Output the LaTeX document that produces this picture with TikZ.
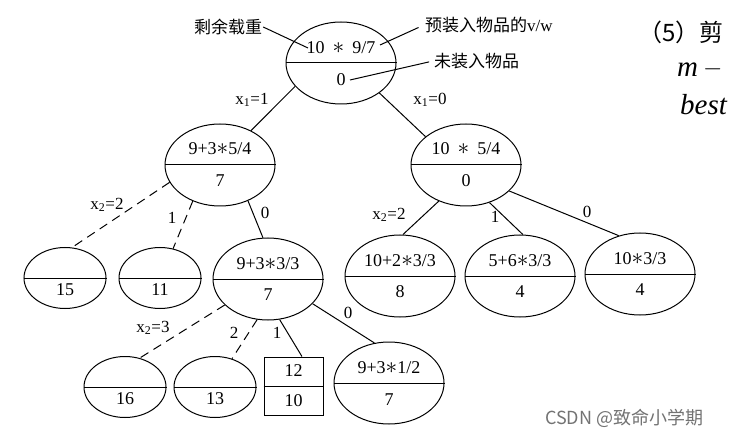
\documentclass[tikz,border=0pt]{standalone}
\usepackage{fontspec}
\usepackage{graphicx}
\setmainfont{Liberation Serif}
\newfontfamily\cjk{Noto Sans CJK SC}
\usetikzlibrary{shapes.geometric}
\newcommand\mystar{\scalebox{1.35}{\(\ast\)}}
\tikzset{
  ell/.style={ellipse, draw, line width=1pt, inner sep=0pt, minimum width=110pt, minimum height=82pt},
  leaf/.style={ellipse, draw, line width=1pt, inner sep=0pt, minimum width=82pt, minimum height=61pt},
  box/.style={rectangle, draw, line width=1pt, inner sep=0pt, minimum width=59pt, minimum height=58pt},
  txt/.style={inner sep=0pt, font=\fontsize{18}{20}\selectfont},
  lab/.style={inner sep=0pt, font=\fontsize{17}{20}\selectfont},
  ann/.style={inner sep=1pt, font=\fontsize{17}{20}\selectfont\cjk},
  conn/.style={line width=1pt},
  dconn/.style={line width=1pt, dash pattern=on 9pt off 6pt},
}
\newcommand\splitnode[7]{%
  \node[#1] (#2) at (#3) {};
  \draw[line width=1pt] (#2.west) -- (#2.east);
  \node[txt] (#2-t) at ([yshift=#6]#2.center) {#4};
  \node[txt] (#2-b) at ([yshift=-#7]#2.center) {#5};
}
\begin{document}
\begin{tikzpicture}[x=1pt,y=-1pt]
\useasboundingbox (0,0) rectangle (730,438);
\fill[white] (0,0) rectangle (730,438);

% tree nodes
\splitnode{ell}{R}{341,63}{10\hspace{.45em}\mystar\hspace{.45em}9/7}{0}{15pt}{17pt}
\splitnode{ell}{A}{220,165}{9+3\mystar5/4}{7}{16pt}{16pt}
\splitnode{ell}{C}{466,165}{10\hspace{.45em}\mystar\hspace{.45em}5/4}{0}{16pt}{16pt}
\splitnode{leaf}{L15}{65,278}{}{15}{0pt}{12pt}
\splitnode{leaf}{L11}{160,278}{}{11}{0pt}{12pt}
\splitnode{ell}{B}{268,279}{9+3\mystar3/3}{7}{15pt}{16pt}
\splitnode{ell}{D}{400,276}{10+2\mystar3/3}{8}{15pt}{16pt}
\splitnode{ell}{E}{520,276}{5+6\mystar3/3}{4}{15pt}{16pt}
\splitnode{ell}{F}{640,274}{10\mystar3/3}{4}{15pt}{16pt}
\splitnode{leaf}{L16}{125,387}{}{16}{0pt}{12pt}
\splitnode{leaf}{L13}{215,387}{}{13}{0pt}{12pt}
\splitnode{box}{K}{293.5,386}{12}{10}{15pt}{15pt}
\splitnode{ell}{G}{389,383}{9+3\mystar1/2}{7}{15pt}{17pt}

% connectors
\draw[conn] (R.207) -- (A.48);
\draw[conn] (R.322) -- (C.145);
\draw[dconn] (A.199) -- (L15.77);
\draw[dconn] (A.233) -- (L11.66);
\draw[conn] (A.308) -- (B.97);
\draw[conn] (C.233) -- (D.86);
\draw[conn] (C.302) -- (E.86);
\draw[conn] (C.329) -- (F.119);
\draw[dconn] (B.211) -- (L16.63);
\draw[dconn] (B.255) -- (L13.59);
\draw[conn] (B.286) -- (K.74);
\draw[conn] (B.331) -- (G.110);

% edge labels
\node[lab] (l1) at (252,100) {x\textsubscript{1}=1};
\node[lab] (l2) at (430,100) {x\textsubscript{1}=0};
\node[lab] (l3) at (107,205) {x\textsubscript{2}=2};
\node[lab] (l4) at (172,218) {1};
\node[lab] (l5) at (265,213) {0};
\node[lab] (l6) at (389,215) {x\textsubscript{2}=2};
\node[lab] (l7) at (495,217) {1};
\node[lab] (l8) at (587,212) {0};
\node[lab] (l9) at (153,328) {x\textsubscript{2}=3};
\node[lab] (l10) at (234,333) {2};
\node[lab] (l11) at (277,333) {1};
\node[lab] (l12) at (348,313) {0};

% annotations
\node[ann] (a1) at (228,27) {剩余载重};
\node[ann, anchor=west] (a2) at (424,25) {预装入物品的\textrm{v/w}};
\node[ann, anchor=west] (a3) at (433,61) {未装入物品};
\coordinate (p1) at (308,48);
\coordinate (p2) at (380,45);
\coordinate (p3) at (350,80);
\draw[conn] (a1.east) -- (p1);
\draw[conn, shorten <=6pt] (a2.west) -- (p2);
\draw[conn, shorten <=4pt] (a3.west) -- (p3);

% text of the page beside the figure
\node[anchor=west, inner sep=0pt, font=\fontsize{24}{28}\selectfont\cjk] (s5) at (638,32) {（5）剪};
\node[anchor=west, inner sep=0pt, font=\fontsize{29}{32}\selectfont\itshape] (sm) at (677,70) {m};
\node[anchor=west, inner sep=0pt, font=\fontsize{29}{32}\selectfont] (smin) at (703,69) {\(-\)};
\node[anchor=west, inner sep=0pt, font=\fontsize{29}{32}\selectfont\itshape] (sb) at (680,105) {best};

% watermark
\node[anchor=west, inner sep=0pt, text=black!55, font=\fontsize{18}{20}\selectfont\cjk] (wm) at (545,418) {CSDN @致命小学期};
\end{tikzpicture}
\end{document}
